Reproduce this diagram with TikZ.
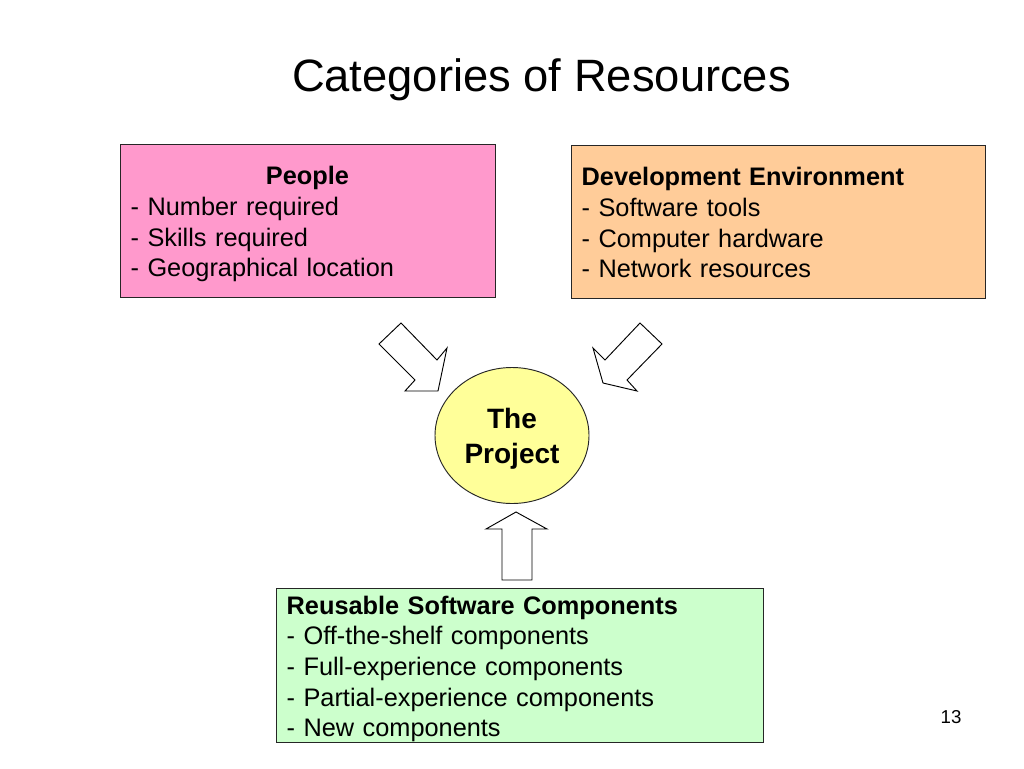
\documentclass[tikz,border=0pt]{standalone}
\usepackage{fontspec}
\setmainfont{Liberation Sans}
\usetikzlibrary{shapes.geometric}

\definecolor{peoplepink}{HTML}{FF99CC}
\definecolor{envorange}{HTML}{FFCC99}
\definecolor{projyellow}{HTML}{FFFF99}
\definecolor{reusegreen}{HTML}{CCFFCC}

\begin{document}
\begin{tikzpicture}[x=0.75pt,y=-0.75pt,
    resbox/.style={rectangle, draw=black!85, line width=0.7pt, inner xsep=8pt, inner ysep=0pt,
      align=left, minimum height=114.75pt, font=\fontsize{19}{23}\selectfont,
      execute at begin node={\rule{0pt}{19.6pt}}, execute at end node={\rule[-3.9pt]{0pt}{0pt}}},
    project/.style={ellipse, draw=black!85, line width=0.7pt, fill=projyellow,
      minimum width=115.5pt, minimum height=102pt, align=center,
      font=\fontsize{21}{26}\selectfont\bfseries},
    blockarrow/.style={draw=black, fill=white, line width=0.7pt, line join=miter}]
  \useasboundingbox[fill=white] (0,0) rectangle (1024,768);

  \node (title) at (541.5,80) {\fontsize{34}{40}\selectfont Categories of Resources};

  \node[resbox, fill=peoplepink, text width=265.25pt] (people) at (307.5,220.5)
    {\makebox[\hsize][c]{\textbf{People}}\\- Number required\\- Skills required\\- Geographical location};
  \node[resbox, fill=envorange, text width=294.5pt] (devenv) at (778,221.5)
    {\textbf{Development Environment}\\- Software tools\\- Computer hardware\\- Network resources};
  \node[project] (proj) at (512,435.5) {\rule{0pt}{20pt}The\\Project};
  \node[resbox, fill=reusegreen, text width=349.25pt, minimum height=115.5pt] (reuse) at (519.5,665)
    {\textbf{Reusable Software Components}\\- Off-the-shelf components\\- Full-experience components\\- Partial-experience components\\- New components};

  \node (pagenum) at (951,717) {\fontsize{14}{16}\selectfont 13};

  % block arrows into the project
  \draw[blockarrow] (401,323) -- (379,344) -- (415,380) -- (405,391) -- (438,391)
    -- (447,348) -- (437,360) -- cycle;
  \draw[blockarrow] (640,323) -- (662,344) -- (627,380) -- (637,391) -- (603,383)
    -- (593,348) -- (605,360) -- cycle;
  \draw[blockarrow] (502,580) -- (502,529) -- (486,529) -- (516,512) -- (547,529)
    -- (532,529) -- (532,580) -- cycle;
\end{tikzpicture}
\end{document}
